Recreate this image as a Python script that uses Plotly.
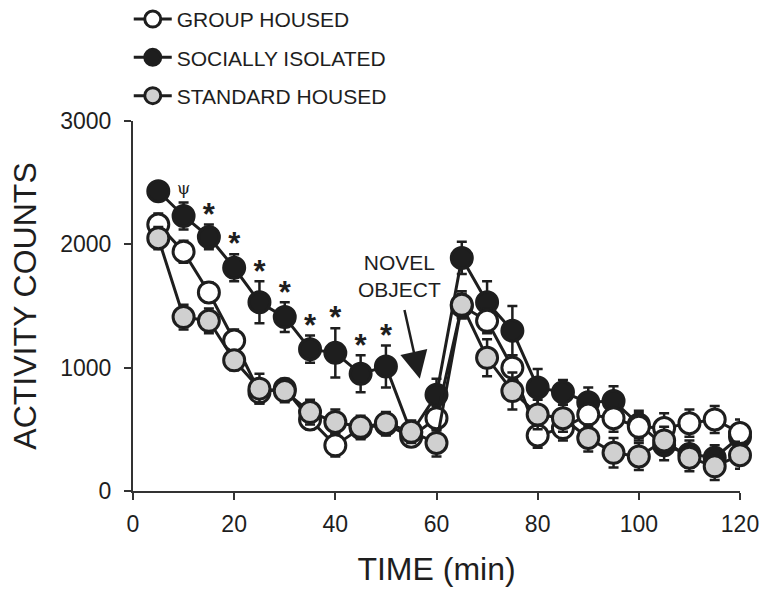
import plotly.graph_objects as go

time = [5, 10, 15, 20, 25, 30, 35, 40, 45, 50, 55, 60, 65, 70, 75, 80, 85, 90, 95, 100, 105, 110, 115, 120]

group = [2160, 1940, 1610, 1220, 800, 830, 580, 370, 510, 540, 440, 590, 1500, 1380, 1000, 450, 510, 620, 590, 520, 510, 550, 580, 470]
group_err = [90, 90, 80, 90, 90, 80, 80, 90, 90, 90, 80, 100, 100, 100, 100, 100, 100, 100, 110, 110, 120, 110, 110, 110]

isolated = [2430, 2230, 2060, 1810, 1530, 1410, 1150, 1120, 950, 1010, 470, 780, 1890, 1530, 1300, 840, 800, 720, 730, 540, 370, 300, 270, 440]
isolated_err = [60, 110, 100, 110, 170, 120, 110, 200, 150, 170, 100, 130, 130, 170, 200, 150, 100, 120, 120, 110, 120, 110, 100, 100]

standard = [2050, 1410, 1380, 1060, 830, 810, 640, 560, 520, 550, 480, 390, 1510, 1080, 810, 620, 590, 430, 310, 280, 410, 270, 200, 290]
standard_err = [90, 100, 100, 80, 120, 90, 100, 100, 90, 90, 90, 110, 110, 150, 150, 120, 110, 110, 120, 110, 110, 110, 110, 110]

star_times = [15, 20, 25, 30, 35, 40, 45, 50]
psi_times = [10]

EDGE = "#1e1e1e"
AXIS = "#333333"
FONT = "Liberation Sans, Arial, sans-serif"

fig = go.Figure()

def add_series(name, y, err, fill, rank):
    fig.add_trace(go.Scatter(
        x=time, y=y, name=name, mode="lines+markers",
        line=dict(color=EDGE, width=3),
        marker=dict(size=21, color=fill, line=dict(color=EDGE, width=3)),
        error_y=dict(type="data", array=err, color=EDGE, thickness=2.5, width=5),
        legendrank=rank, legendgroup=name, cliponaxis=False,
    ))

add_series("SOCIALLY ISOLATED", isolated, isolated_err, "#1e1e1e", 2)
add_series("GROUP HOUSED", group, group_err, "#ffffff", 1)
add_series("STANDARD HOUSED", standard, standard_err, "#d0d0d0", 3)

# significance markers
iso_map = dict(zip(time, zip(isolated, isolated_err)))
fig.add_trace(go.Scatter(
    x=star_times, y=[iso_map[t][0] + iso_map[t][1] - 65 for t in star_times],
    mode="text", text=["<b>*</b>"] * len(star_times), textposition="top center",
    textfont=dict(size=31, color=EDGE, family=FONT), showlegend=False, cliponaxis=False,
))
fig.add_trace(go.Scatter(
    x=psi_times, y=[iso_map[t][0] + iso_map[t][1] + 30 for t in psi_times],
    mode="text", text=["\u03c8"], textposition="top center",
    textfont=dict(size=17, color=EDGE, family="DejaVu Serif, serif"), showlegend=False, cliponaxis=False,
))

fig.add_annotation(x=52.6, y=1745, text="NOVEL<br>OBJECT", showarrow=False,
                   font=dict(size=21, color=EDGE, family=FONT), align="center")
fig.add_annotation(x=56.7, y=910, ax=53.6, ay=1480, xref="x", yref="y", axref="x", ayref="y",
                   text="", showarrow=True, arrowhead=2, arrowsize=2.2, arrowwidth=2.5, arrowcolor=EDGE)

fig.update_layout(
    width=763, height=593,
    margin=dict(l=133, r=23, t=121, b=102, autoexpand=False),
    plot_bgcolor="white", paper_bgcolor="white",
    font=dict(family=FONT, color=EDGE),
    legend=dict(x=-0.007, y=1.33, xanchor="left", yanchor="top",
                font=dict(size=21, color=EDGE, family=FONT),
                bgcolor="rgba(0,0,0,0)", tracegroupgap=8, itemwidth=38),
)
fig.update_xaxes(range=[0, 120], tickvals=[0, 20, 40, 60, 80, 100, 120],
                 showline=True, linecolor=AXIS, linewidth=2, ticks="outside",
                 ticklen=7, tickwidth=2, tickcolor=AXIS, showgrid=False, zeroline=False,
                 tickfont=dict(size=23, color=EDGE), ticklabelstandoff=4,
                 title=dict(text="TIME (min)", font=dict(size=32, color=EDGE), standoff=22))
fig.update_yaxes(range=[0, 3000], tickvals=[0, 1000, 2000, 3000],
                 showline=True, linecolor=AXIS, linewidth=2, ticks="outside",
                 ticklen=7, tickwidth=2, tickcolor=AXIS, showgrid=False, zeroline=False,
                 tickfont=dict(size=23, color=EDGE), ticklabelstandoff=8,
                 title=dict(text="ACTIVITY COUNTS", font=dict(size=32, color=EDGE), standoff=14))

fig.write_html("out.html", config={"displayModeBar": False},
               post_script="document.body.style.margin='0px';")
